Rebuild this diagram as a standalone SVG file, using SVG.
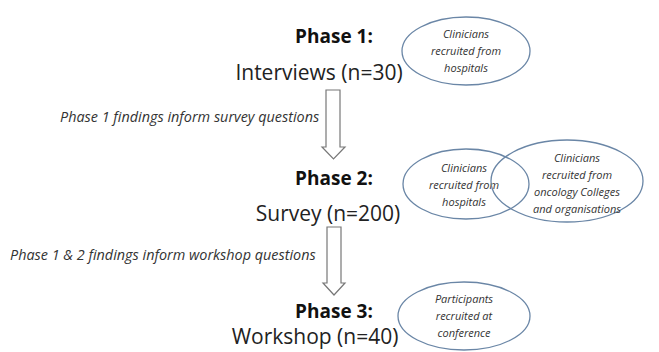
<svg xmlns="http://www.w3.org/2000/svg" width="659" height="352" viewBox="0 0 659 352">
<style>
.ph{font-family:"Open Sans","Liberation Sans",sans-serif;font-weight:bold;font-size:19px;fill:#111;text-anchor:middle}
.sub{font-family:"Open Sans","Liberation Sans",sans-serif;font-size:21px;fill:#222;text-anchor:middle}
.lab{font-family:"Open Sans","Liberation Sans",sans-serif;font-style:italic;font-size:14.4px;fill:#333}
.el{fill:none;stroke:#6a86a6;stroke-width:1.3}
.et{font-family:"Open Sans","Liberation Sans",sans-serif;font-style:italic;font-size:11px;fill:#333;text-anchor:middle}
.arr{fill:#fff;stroke:#777;stroke-width:1.2}
</style>
<rect width="659" height="352" fill="#fff"/>
<g id="phase1">
<text class="ph" x="334" y="43">Phase 1:</text>
<text class="sub" x="319" y="80">Interviews (n=30)</text>
</g>
<g id="ell1">
<ellipse class="el" cx="466" cy="51" rx="64" ry="34"/>
<text class="et" x="466" y="38">Clinicians</text>
<text class="et" x="466" y="55">recruited from</text>
<text class="et" x="466" y="72">hospitals</text>
</g>
<g id="phase2">
<text class="ph" x="334" y="185">Phase 2:</text>
<text class="sub" x="328" y="221">Survey (n=200)</text>
</g>
<g id="ell2a">
<ellipse class="el" cx="466" cy="184" rx="63" ry="35"/>
<text class="et" x="464" y="172">Clinicians</text>
<text class="et" x="464" y="189">recruited from</text>
<text class="et" x="464" y="206">hospitals</text>
</g>
<g id="ell2b">
<ellipse class="el" cx="567" cy="181" rx="76" ry="41"/>
<text class="et" x="577" y="162">Clinicians</text>
<text class="et" x="577" y="179">recruited from</text>
<text class="et" x="577" y="196">oncology Colleges</text>
<text class="et" x="577" y="213">and organisations</text>
</g>
<g id="phase3">
<text class="ph" x="334" y="318">Phase 3:</text>
<text class="sub" x="315" y="344">Workshop (n=40)</text>
</g>
<g id="ell3">
<ellipse class="el" cx="464" cy="316" rx="66" ry="34"/>
<text class="et" x="464" y="303">Participants</text>
<text class="et" x="464" y="320">recruited at</text>
<text class="et" x="464" y="337">conference</text>
</g>
<g id="connectors">
<path class="arr" d="M326,90 H340 V147 H345 L333.5,159 L322,147 H326 Z"/>
<path class="arr" d="M327,227 H341 V283 H345 L334,295 L323,283 H327 Z"/>
<text class="lab" x="60" y="122">Phase 1 findings inform survey questions</text>
<text class="lab" x="10" y="260">Phase 1 &amp; 2 findings inform workshop questions</text>
</g>
</svg>
